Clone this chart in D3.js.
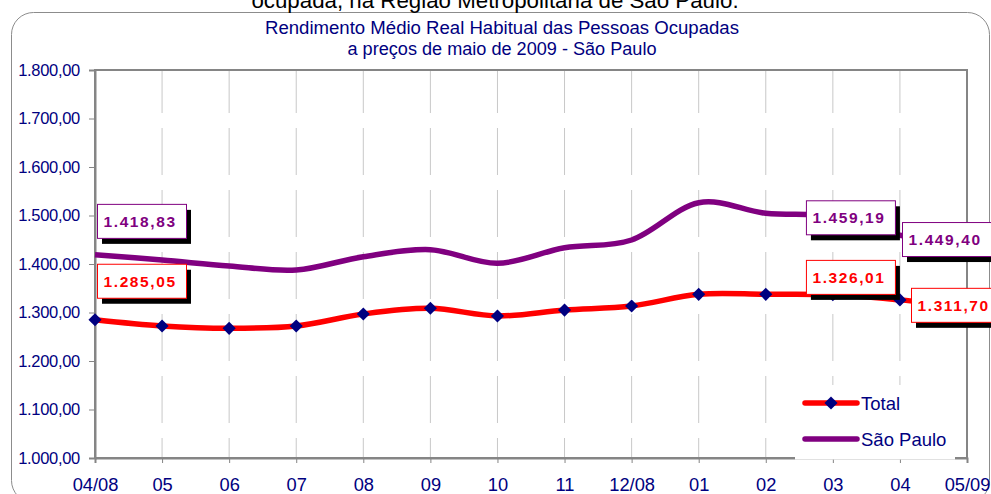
<!DOCTYPE html>
<html>
<head>
<meta charset="utf-8">
<script src="https://cdn.jsdelivr.net/npm/d3@7"></script>
<style>
  body { margin: 0; background: #fff; }
  text { font-family: "Liberation Sans", Arial, sans-serif; }
</style>
</head>
<body>
<script>
const WIDTH = 991;
const HEIGHT = 494;

// data
const months = ['04/08', '05', '06', '07', '08', '09', '10', '11', '12/08', '01', '02', '03', '04', '05/09'];
const totalValues = [1285.05, 1272.2, 1267.4, 1272.2, 1296.9, 1308.7, 1292.8, 1305.0, 1313.4, 1337.5, 1337.5, 1336.5, 1326.01, 1311.70];
const spValues = [1418.83, 1408.2, 1395.9, 1387.6, 1415.0, 1429.5, 1401.4, 1433.6, 1449.5, 1526.4, 1504.5, 1498.0, 1459.19, 1449.40];
const yTicks = [1000, 1100, 1200, 1300, 1400, 1500, 1600, 1700, 1800];
const seriesNames = ['Total', 'São Paulo'];

const NAVY = '#000080';
const RED = '#ff0000';
const PURPLE = '#800080';

const plot = {left: 95, right: 967, top: 70, bottom: 458};

const locale = d3.formatLocale({decimal: ',', thousands: '.', grouping: [3], currency: ['R$', '']});
const fmt = locale.format(',.2f');

const svg = d3.select('body')
  .append('svg')
  .attr('width', WIDTH)
  .attr('height', HEIGHT);

// outer rounded frame
svg.append('rect')
  .attr('x', 11.5).attr('y', 12.5)
  .attr('width', 978).attr('height', 490)
  .attr('rx', 22)
  .attr('fill', '#fff')
  .attr('stroke', '#8c8c8c');

// cut-off heading above the chart
svg.append('text')
  .attr('x', 495).attr('y', 8)
  .attr('text-anchor', 'middle')
  .attr('font-size', 22.3)
  .attr('fill', '#000')
  .text('ocupada, na Região Metropolitana de São Paulo.');

svg.append('text')
  .attr('x', 502).attr('y', 34)
  .attr('text-anchor', 'middle')
  .attr('font-size', 18.3)
  .attr('fill', NAVY)
  .attr('textLength', 474)
  .attr('lengthAdjust', 'spacingAndGlyphs')
  .text('Rendimento Médio Real Habitual das Pessoas Ocupadas');

svg.append('text')
  .attr('x', 502).attr('y', 55)
  .attr('text-anchor', 'middle')
  .attr('font-size', 18.3)
  .attr('fill', NAVY)
  .attr('textLength', 309)
  .attr('lengthAdjust', 'spacingAndGlyphs')
  .text('a preços de maio de 2009 - São Paulo');

const x = d3.scalePoint()
  .domain(months)
  .range([plot.left, plot.right]);

const y = d3.scaleLinear()
  .domain([1000, 1800])
  .range([plot.bottom, plot.top]);

// vertical dashed gridlines
svg.append('g')
  .selectAll('line')
  .data(months.slice(1, -1))
  .join('line')
  .attr('x1', d => x(d)).attr('x2', d => x(d))
  .attr('y1', plot.bottom).attr('y2', plot.top)
  .attr('stroke', '#c8c8c8')
  .attr('stroke-width', 1)
  .attr('stroke-dasharray', '47,15')
  .attr('stroke-dashoffset', 27);

// plot border
svg.append('rect')
  .attr('x', plot.left).attr('y', plot.top)
  .attr('width', plot.right - plot.left)
  .attr('height', plot.bottom - plot.top)
  .attr('fill', 'none')
  .attr('stroke', '#858585')
  .attr('stroke-width', 2);

const yAxis = svg.append('g')
  .attr('transform', `translate(${plot.left},0)`)
  .call(d3.axisLeft(y).tickValues(yTicks).tickSize(6).tickPadding(9).tickFormat(fmt));

const xAxis = svg.append('g')
  .attr('transform', `translate(0,${plot.bottom})`)
  .call(d3.axisBottom(x).tickSize(5).tickPadding(15));

[yAxis, xAxis].forEach(g => {
  g.select('.domain').attr('stroke', '#858585').attr('stroke-width', 2);
  g.selectAll('.tick line').attr('stroke', '#858585');
  g.selectAll('text')
    .attr('fill', NAVY)
    .attr('font-family', '"Liberation Sans", Arial, sans-serif');
});
yAxis.selectAll('text').attr('font-size', 16.5).attr('letter-spacing', -0.3);
xAxis.selectAll('text').attr('font-size', 18.3);

// lines
const line = d3.line()
  .x((d, i) => x(months[i]))
  .y(d => y(d))
  .curve(d3.curveCardinal.tension(0));

svg.append('path')
  .datum(spValues)
  .attr('d', line)
  .attr('fill', 'none')
  .attr('stroke', PURPLE)
  .attr('stroke-width', 5.5);

svg.append('path')
  .datum(totalValues)
  .attr('d', line)
  .attr('fill', 'none')
  .attr('stroke', RED)
  .attr('stroke-width', 5.5);

const diamond = d3.symbol().type(d3.symbolDiamond2).size(110);

svg.append('g')
  .selectAll('path')
  .data(totalValues)
  .join('path')
  .attr('d', diamond)
  .attr('transform', (d, i) => `translate(${x(months[i])},${y(d)})`)
  .attr('fill', NAVY);

// legend
const legend = svg.append('g');
legend.append('rect')
  .attr('x', 795).attr('y', 385)
  .attr('width', 160).attr('height', 74.5)
  .attr('fill', '#fff');

const legendItems = [
  {name: seriesNames[0], color: RED, marker: true, y: 403},
  {name: seriesNames[1], color: PURPLE, marker: false, y: 439},
];
legendItems.forEach(it => {
  legend.append('line')
    .attr('x1', 805).attr('x2', 857)
    .attr('y1', it.y).attr('y2', it.y)
    .attr('stroke', it.color)
    .attr('stroke-width', 5.5)
    .attr('stroke-linecap', 'round');
  if (it.marker) {
    legend.append('path')
      .attr('d', diamond)
      .attr('transform', `translate(831,${it.y})`)
      .attr('fill', NAVY);
  }
  legend.append('text')
    .attr('x', 861).attr('y', it.y + 7)
    .attr('font-size', 18.5)
    .attr('fill', NAVY)
    .text(it.name);
});

// data labels
const labelSpecs = [
  {values: spValues, color: PURPLE, i: 0, dx: 2, dy: -51},
  {values: totalValues, color: RED, i: 0, dx: 2, dy: -56},
  {values: spValues, color: PURPLE, i: 12, dx: -94, dy: -35},
  {values: totalValues, color: RED, i: 12, dx: -94, dy: -40},
  {values: spValues, color: PURPLE, i: 13, dx: -65, dy: -18},
  {values: totalValues, color: RED, i: 13, dx: -56, dy: -19},
];
const BOX_W = 89;
const BOX_H = 34;

labelSpecs.forEach(s => {
  const bx = x(months[s.i]) + s.dx;
  const by = y(s.values[s.i]) + s.dy;
  const g = svg.append('g');
  g.append('rect')
    .attr('x', bx + 5).attr('y', by + 6)
    .attr('width', BOX_W).attr('height', BOX_H)
    .attr('fill', '#000');
  g.append('rect')
    .attr('x', bx + 0.5).attr('y', by + 0.5)
    .attr('width', BOX_W).attr('height', BOX_H)
    .attr('fill', '#fff')
    .attr('stroke', s.color);
  g.append('text')
    .attr('x', bx + 6.5)
    .attr('y', by + BOX_H / 2 + 6)
    .attr('font-size', 15.5)
    .attr('font-weight', 'bold')
    .attr('letter-spacing', 1.6)
    .attr('fill', s.color)
    .text(fmt(s.values[s.i]));
});
</script>
</body>
</html>
